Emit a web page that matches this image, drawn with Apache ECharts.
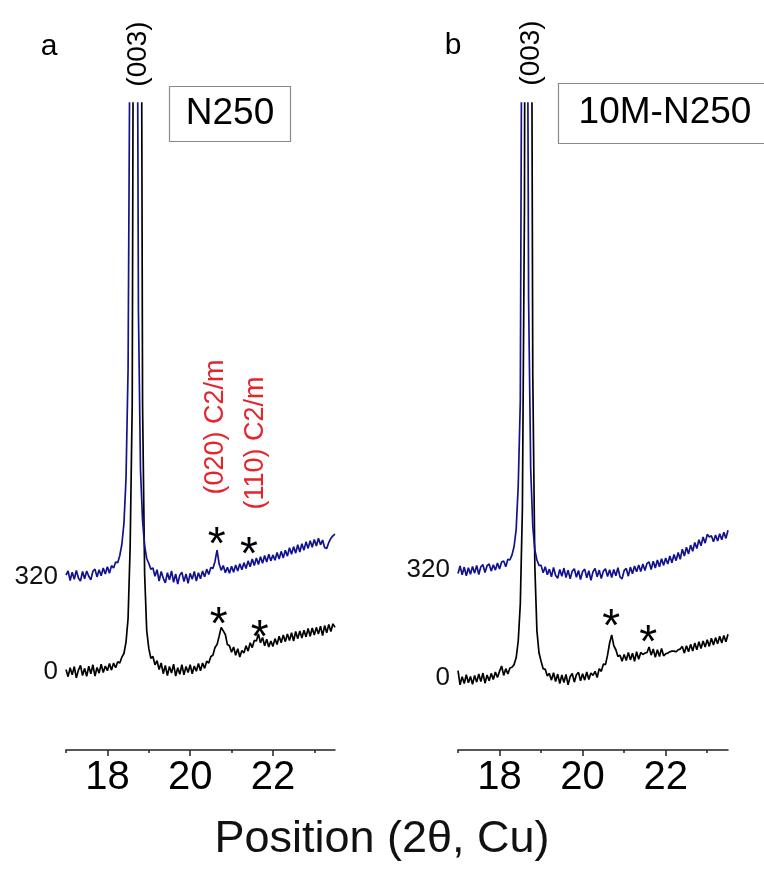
<!DOCTYPE html>
<html>
<head>
<meta charset="utf-8">
<script src="https://cdn.jsdelivr.net/npm/echarts@6/dist/echarts.min.js"></script>
<style>
html,body{margin:0;padding:0;background:#fff;}
#chart{width:764px;height:878px;}
</style>
</head>
<body>
<div id="chart"></div>
<script>
// 2-theta grid of the scans (degrees)
const thetaStart = 17.0;
const thetaStep = 0.05;
const thetaCount = 131;

// Panel a (N250): intensities (counts); blue trace is offset by 320
const leftBlack = [8,-16,14,-10,18,-20,6,22,-12,12,-15,19,-6,24,-14,15,-4,26,-2,20,
  4,28,6,30,14,34,30,50,62,100,180,420,900,3500,8500,9000,3500,900,330,140,
  80,46,52,24,38,8,30,-6,22,-12,18,-4,26,-14,14,-8,24,-10,18,-2,
  24,-6,20,2,28,4,30,12,36,30,52,56,82,92,120,150,138,126,92,88,
  66,84,56,78,50,72,64,88,70,98,82,106,104,128,98,116,88,110,84,104,
  86,112,92,120,98,124,102,128,106,132,104,136,112,138,114,140,118,146,120,148,
  124,150,128,154,122,156,132,160,136,162,150];
const leftBlue = [6,20,-12,16,-8,22,-4,-14,18,-6,20,2,-10,19,26,0,24,4,30,10,
  34,12,38,30,50,48,72,110,180,330,700,2000,6000,8000,3000,900,360,190,105,62,
  46,26,30,2,24,-14,18,-4,-20,14,-10,20,-18,10,-24,6,16,-16,10,-22,
  12,-8,18,-14,14,-6,20,0,26,8,32,28,52,90,44,22,38,14,32,12,
  36,16,40,20,44,24,48,28,54,34,60,38,64,42,68,46,72,50,76,54,
  74,56,82,60,86,64,90,70,98,76,102,80,108,84,112,90,118,96,122,100,
  126,104,130,108,124,98,96,116,130,138,144];

// Panel b (10M-N250)
const rightBlack = [22,-20,4,-16,10,-14,5,-18,8,-12,12,-10,15,-15,9,-8,14,-4,18,2,
  20,36,8,28,12,30,32,40,60,110,220,500,1400,4500,8000,3000,900,330,140,75,
  50,28,26,6,14,-6,16,-10,12,-16,9,-13,11,-20,4,14,-12,10,17,-8,
  13,-6,18,-4,15,8,20,2,28,20,42,40,68,104,128,96,84,64,68,50,
  70,52,76,54,74,50,78,56,76,70,74,76,92,68,86,62,84,64,88,66,
  72,74,78,80,80,78,84,86,94,74,96,78,100,80,104,84,108,88,110,92,
  114,94,118,98,120,102,124,104,126,108,130];
const rightBlue = [-10,12,-14,9,-17,7,-12,11,-9,14,-13,10,16,-7,13,18,-3,16,0,21,
  3,24,27,10,32,30,45,70,120,250,500,2200,7000,2500,800,300,130,60,30,14,
  14,-8,10,-14,3,-20,8,-16,-24,2,-18,6,-22,0,-26,-3,4,-21,-1,-28,
  -4,3,-23,-2,-30,-5,5,-20,0,-25,-3,4,-19,1,-22,2,-17,7,-20,-26,
  -1,5,-18,9,-11,12,-5,15,-4,18,-1,20,24,2,26,6,30,10,34,14,
  36,18,42,22,46,28,52,32,62,42,68,48,74,56,82,64,90,72,98,80,
  106,98,102,84,104,86,108,90,112,94,118];

const blueOffset = 320;
const yTickValues = [0, 320];
const xLabelValues = [18, 20, 22];
const xMinorValues = [17, 19, 21, 23];

// Annotation anchors (2-theta, count)
const leftStarTheta = [20.64, 21.42, 20.69, 21.68];
const leftStarValue = [461, 428, 189, 148];
const rightStarTheta = [20.69, 21.58];
const rightStarValue = [181, 133];
const phaseLabels = ['(020) C2/m', '(110) C2/m'];
const phaseTheta = [20.62, 21.59];
const phaseValue = [825, 771];

const FONT = '"Liberation Sans", Arial, sans-serif';
const BLACK = '#000000';
const BLUE = '#12128f';
const RED = '#e3262b';

function theta(i){ return +(thetaStart + thetaStep * i).toFixed(2); }
function pairs(arr, off){ return arr.map((v,i)=>[theta(i), v + off]); }
function starData(ts, vs){ return ts.map((t,i)=>({value:[t, vs[i]]})); }

const chart = echarts.init(document.getElementById('chart'), null, {renderer:'canvas'});

function mainX(gi){
  return {
    type:'value', gridIndex:gi, min:17, max:23.5, position:'bottom',
    axisLine:{show:true, onZero:false, lineStyle:{color:'#222', width:1.5}},
    axisTick:{show:true, customValues:xLabelValues, length:6, inside:false, lineStyle:{color:'#222', width:1.5}},
    axisLabel:{customValues:xLabelValues, fontSize:40, color:'#000', fontFamily:FONT, margin:8},
    splitLine:{show:false}
  };
}
function minorX(gi){
  return {
    type:'value', gridIndex:gi, min:17, max:23.5, position:'bottom',
    axisLine:{show:false, onZero:false},
    axisTick:{show:true, customValues:xMinorValues, length:3, lineStyle:{color:'#222', width:1.5}},
    axisLabel:{show:false},
    splitLine:{show:false}
  };
}
function yAx(gi, mn, mx){
  return {
    type:'value', gridIndex:gi, min:mn, max:mx,
    axisLine:{show:false}, axisTick:{show:false}, splitLine:{show:false},
    axisLabel:{customValues:yTickValues, fontSize:26, color:'#111', fontFamily:FONT, margin:8}
  };
}
function lineS(xi, yi, data, color){
  return {type:'line', xAxisIndex:xi, yAxisIndex:yi, data:data, showSymbol:false, symbol:'none',
    lineStyle:{color:color, width:1.7}, clip:true, silent:true, animation:false, z:3};
}
function starS(xi, yi, data){
  return {type:'scatter', xAxisIndex:xi, yAxisIndex:yi, data:data, symbolSize:0, silent:true, z:5,
    itemStyle:{color:'#000', opacity:1},
    label:{show:true, position:'inside', formatter:'*', fontSize:46, color:'#000', fontFamily:FONT, opacity:1,
      textBorderWidth:0, textBorderColor:'transparent', offset:[0,11]}};
}

const option = {
  animation:false,
  backgroundColor:'#ffffff',
  grid:[
    {left:66, top:103, width:269, height:647},
    {left:458, top:103, width:270, height:647}
  ],
  xAxis:[mainX(0), mainX(1), minorX(0), minorX(1)],
  yAxis:[yAx(0, -263, 1916), yAx(1, -213, 1704)],
  series:[
    lineS(0,0,pairs(leftBlack,0),BLACK),
    lineS(0,0,pairs(leftBlue,blueOffset),BLUE),
    lineS(1,1,pairs(rightBlack,0),BLACK),
    lineS(1,1,pairs(rightBlue,blueOffset),BLUE),
    starS(0,0,starData(leftStarTheta,leftStarValue)),
    starS(1,1,starData(rightStarTheta,rightStarValue)),
    {type:'scatter', xAxisIndex:0, yAxisIndex:0, symbolSize:0, silent:true, z:5,
      itemStyle:{color:RED, opacity:1},
      data: phaseLabels.map((t,i)=>({value:[phaseTheta[i], phaseValue[i]], name:t})),
      label:{show:true, position:'inside', formatter:p=>p.name, rotate:90, fontSize:27, color:RED, opacity:1,
        fontFamily:FONT, textBorderWidth:0, textBorderColor:'transparent'}}
  ],
  graphic:[
    {type:'text', x:49, y:47, style:{text:'a', font:'30px '+FONT, fill:'#000', align:'center', verticalAlign:'middle'}},
    {type:'text', x:453, y:46, style:{text:'b', font:'30px '+FONT, fill:'#000', align:'center', verticalAlign:'middle'}},
    {type:'text', x:138, y:54, rotation:Math.PI/2, style:{text:'(003)', font:'28px '+FONT, fill:'#000', align:'center', verticalAlign:'middle'}},
    {type:'text', x:531, y:53, rotation:Math.PI/2, style:{text:'(003)', font:'28px '+FONT, fill:'#000', align:'center', verticalAlign:'middle'}},
    {type:'rect', shape:{x:169.5, y:86.5, width:121, height:55}, style:{fill:'#fff', stroke:'#8a8a8a', lineWidth:1.2}, z:10},
    {type:'text', x:230, y:114, z:11, style:{text:'N250', font:'37px '+FONT, fill:'#000', align:'center', verticalAlign:'middle'}},
    {type:'rect', shape:{x:558.5, y:83.5, width:210, height:60}, style:{fill:'#fff', stroke:'#8a8a8a', lineWidth:1.2}, z:10},
    {type:'text', x:665, y:113, z:11, style:{text:'10M-N250', font:'37px '+FONT, fill:'#000', align:'center', verticalAlign:'middle'}},
    {type:'text', x:382, y:840, style:{text:'Position (2\u03b8, Cu)', font:'45px '+FONT, fill:'#111', align:'center', verticalAlign:'middle'}}
  ]
};
chart.setOption(option);
</script>
</body>
</html>
